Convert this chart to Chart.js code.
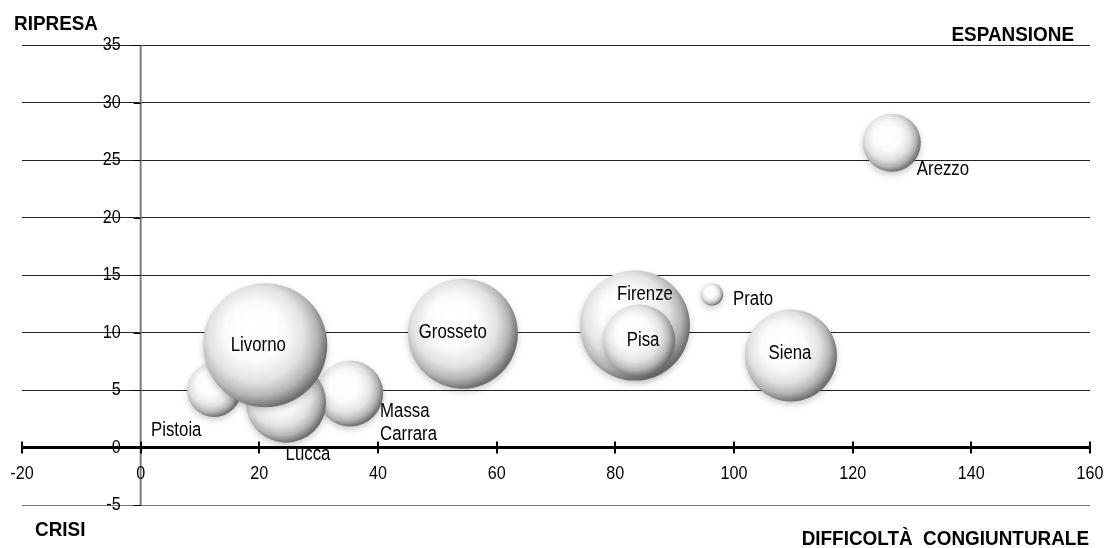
<!DOCTYPE html>
<html>
<head>
<meta charset="utf-8">
<script src="https://cdn.jsdelivr.net/npm/chart.js@4"></script>
<style>
  html, body { margin: 0; padding: 0; background: #fff; }
  #wrap { width: 1107px; height: 548px; position: relative; }
</style>
</head>
<body>
<div id="wrap"><canvas id="bubbleChart"></canvas></div>
<script>
// Province, difficoltà congiunturale (x), ripresa (y), dimensione bolla
const provinces = ["Massa Carrara", "Pistoia", "Lucca", "Livorno", "Grosseto", "Firenze", "Pisa", "Siena", "Prato", "Arezzo"];
const xValues = [35.3, 12.4, 24.5, 21.0, 54.3, 83.3, 84.0, 109.6, 96.3, 126.6];
const yValues = [4.7, 5.0, 3.9, 8.9, 9.9, 10.6, 9.3, 8.0, 13.3, 26.5];
const bubbleSize = [33, 27, 40, 62, 55, 55, 36, 46, 11, 29];
const xTicks = [-20, 0, 20, 40, 60, 80, 100, 120, 140, 160];
const yTicks = [-5, 0, 5, 10, 15, 20, 25, 30, 35];

const FONT = '"Liberation Sans", Arial, sans-serif';

// label placement relative to bubble centre (px)
const labelPos = {
  "Massa Carrara": { dx: 30, dy: 18, align: "left", lines: ["Massa", "Carrara"] },
  "Pistoia": { dx: -38, dy: 40, align: "center" },
  "Lucca": { dx: 22, dy: 52, align: "center" },
  "Livorno": { dx: -7, dy: 0, align: "center" },
  "Grosseto": { dx: -10, dy: -1, align: "center" },
  "Firenze": { dx: 10, dy: -31, align: "center" },
  "Pisa": { dx: 4, dy: 0, align: "center" },
  "Siena": { dx: -1, dy: -2, align: "center" },
  "Prato": { dx: 21, dy: 5, align: "left" },
  "Arezzo": { dx: 25, dy: 27, align: "left" }
};

// narrow text: the original uses a condensed face
function narrowText(ctx, text, x, y, align, font, squeeze) {
  ctx.save();
  ctx.translate(x, y);
  ctx.scale(squeeze, 1);
  ctx.font = font;
  ctx.textAlign = align;
  ctx.textBaseline = "middle";
  ctx.fillStyle = "#000";
  ctx.fillText(text, 0, 0);
  ctx.restore();
}

function sphereFill(context) {
  const chart = context.chart;
  const raw = context.raw;
  if (!raw || !chart.scales.x || !chart.scales.y) return "#ddd";
  const cx = chart.scales.x.getPixelForValue(raw.x);
  const cy = chart.scales.y.getPixelForValue(raw.y);
  const r = raw.r;
  if (!isFinite(cx) || !isFinite(cy) || !isFinite(r)) return "#ddd";
  const g = chart.ctx.createRadialGradient(cx - 0.2 * r, cy - 0.3 * r, 0, cx - 0.12 * r, cy - 0.12 * r, 1.13 * r);
  g.addColorStop(0, "#ffffff");
  g.addColorStop(0.42, "#fbfbfb");
  g.addColorStop(0.68, "#e2e2e2");
  g.addColorStop(0.86, "#b4b4b4");
  g.addColorStop(1, "#6e6e6e");
  return g;
}

const axesPlugin = {
  id: "axesPlugin",
  beforeDatasetsDraw(chart) {
    const ctx = chart.ctx;
    const xs = chart.scales.x;
    const ys = chart.scales.y;
    const x0 = xs.getPixelForValue(0);
    ctx.save();
    // vertical axis at x = 0
    ctx.strokeStyle = "#7a7a7a";
    ctx.lineWidth = 2;
    ctx.beginPath();
    ctx.moveTo(x0, ys.getPixelForValue(35));
    ctx.lineTo(x0, ys.getPixelForValue(-5));
    ctx.stroke();
    // small y ticks
    ctx.strokeStyle = "#000";
    ctx.lineWidth = 1;
    yTicks.forEach((v) => {
      const py = Math.round(ys.getPixelForValue(v)) + 0.5;
      ctx.beginPath();
      ctx.moveTo(x0 - 7, py);
      ctx.lineTo(x0, py);
      ctx.stroke();
    });
    ctx.restore();
    // y tick labels
    yTicks.forEach((v) => {
      narrowText(ctx, String(v), x0 - 20, ys.getPixelForValue(v), "right", "19px " + FONT, 0.85);
    });
    // shadow for bubbles
    ctx.save();
    ctx.shadowColor = "rgba(0,0,0,0.2)";
    ctx.shadowBlur = 6;
    ctx.shadowOffsetY = 3;
  },
  afterDatasetsDraw(chart) {
    const ctx = chart.ctx;
    ctx.restore();
    const xs = chart.scales.x;
    const ys = chart.scales.y;
    const y0 = ys.getPixelForValue(0);

    ctx.save();
    // horizontal axis at y = 0
    ctx.strokeStyle = "#000";
    ctx.lineWidth = 3;
    ctx.beginPath();
    ctx.moveTo(xs.getPixelForValue(-20), y0);
    ctx.lineTo(xs.getPixelForValue(160), y0);
    ctx.stroke();
    ctx.lineWidth = 2;
    xTicks.forEach((v) => {
      const px = Math.round(xs.getPixelForValue(v));
      ctx.beginPath();
      ctx.moveTo(px, y0 - 6);
      ctx.lineTo(px, y0 + 6);
      ctx.stroke();
    });
    ctx.restore();
    xTicks.forEach((v) => {
      narrowText(ctx, String(v), xs.getPixelForValue(v), y0 + 26, "center", "19px " + FONT, 0.85);
    });

    // bubble labels
    const meta = chart.getDatasetMeta(0);
    meta.data.forEach((el, i) => {
      const name = provinces[i];
      const lp = labelPos[name];
      const lines = lp.lines || [name];
      lines.forEach((t, k) => {
        narrowText(ctx, t, el.x + lp.dx, el.y + lp.dy + k * 23, lp.align, "20px " + FONT, 0.84);
      });
    });

    // quadrant captions
    const bold = "bold 21px " + FONT;
    narrowText(ctx, "RIPRESA", 14, 24, "left", bold, 0.9);
    narrowText(ctx, "CRISI", 35, 530, "left", bold, 0.9);
    narrowText(ctx, "ESPANSIONE", 1074, 35, "right", bold, 0.9);
    narrowText(ctx, "DIFFICOLTÀ  CONGIUNTURALE", 1089, 539, "right", bold, 0.9);
  }
};

const points = provinces.map((p, i) => ({ x: xValues[i], y: yValues[i], r: bubbleSize[i] }));

new Chart(document.getElementById("bubbleChart"), {
  type: "bubble",
  data: {
    labels: provinces,
    datasets: [
      {
        data: points,
        backgroundColor: sphereFill,
        borderWidth: 0,
        hoverRadius: 0,
        clip: false
      }
    ]
  },
  options: {
    responsive: true,
    maintainAspectRatio: false,
    animation: false,
    events: [],
    layout: { autoPadding: false, padding: { left: 22, right: 17, top: 45, bottom: 43 } },
    plugins: {
      legend: { display: false },
      tooltip: { enabled: false },
      title: { display: false }
    },
    scales: {
      x: {
        type: "linear",
        min: -20,
        max: 160,
        ticks: { display: false },
        grid: { display: false, drawTicks: false },
        border: { display: false }
      },
      y: {
        type: "linear",
        min: -5,
        max: 35,
        afterBuildTicks: (axis) => {
          axis.ticks = yTicks.map((v) => ({ value: v }));
        },
        ticks: { display: false },
        grid: {
          drawTicks: false,
          color: (c) => (c.tick && c.tick.value === -5 ? "#777" : "#222"),
          lineWidth: 1
        },
        border: { display: false }
      }
    }
  },
  plugins: [axesPlugin]
});
</script>
</body>
</html>
